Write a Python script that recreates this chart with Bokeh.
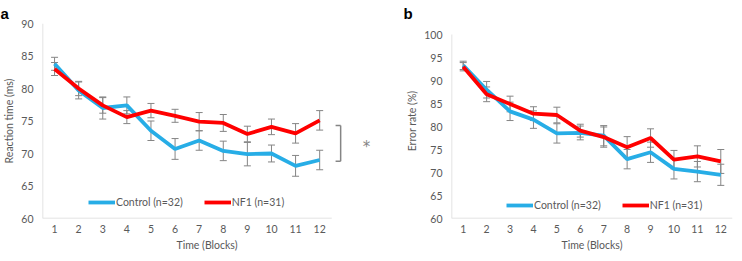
from bokeh.plotting import figure
from bokeh.layouts import row
from bokeh.models import Range1d, FixedTicker, Whisker, TeeHead, ColumnDataSource, Legend, LegendItem, Label
from bokeh.embed import file_html
from bokeh.resources import INLINE

blocks = list(range(1, 13))
tick_labels_a = [60, 65, 70, 75, 80, 85, 90]
tick_labels_b = [60, 65, 70, 75, 80, 85, 90, 95, 100]

# Panel a: reaction time (ms)
rt_control = [83.8, 79.7, 77.0, 77.4, 73.5, 70.7, 72.0, 70.4, 69.9, 70.0, 68.1, 69.0]
rt_control_err = [1.0, 1.3, 1.7, 1.3, 1.5, 1.6, 1.5, 1.5, 1.8, 1.3, 1.6, 1.5]
rt_nf1 = [83.0, 80.0, 77.4, 75.6, 76.6, 75.8, 74.9, 74.7, 73.0, 74.1, 73.1, 75.1]
rt_nf1_err = [1.0, 1.1, 1.2, 1.0, 1.1, 1.0, 1.4, 1.3, 1.2, 1.2, 1.5, 1.5]

# Panel b: error rate (%)
er_control = [93.3, 88.0, 83.3, 81.5, 78.5, 78.6, 78.0, 72.9, 74.4, 70.8, 70.2, 69.5]
er_control_err = [0.9, 1.8, 2.0, 1.9, 2.1, 1.5, 2.2, 2.1, 2.2, 2.2, 2.2, 2.3]
er_nf1 = [93.0, 87.0, 84.9, 82.8, 82.5, 79.1, 77.7, 75.5, 77.5, 72.8, 73.5, 72.4]
er_nf1_err = [0.9, 1.6, 1.7, 1.5, 1.7, 1.4, 2.2, 2.3, 2.0, 2.0, 2.3, 2.6]

# significance bracket for panel a (data units)
bracket_x = [12.66, 12.87]
bracket_y = [68.8, 74.3]
star_pos = (13.94, 71.0)

BLUE = "#27ADE6"
RED = "#FF0000"
GRAY = "#858585"
AXIS = "#D9D9D9"
TXT = "#595959"
FONT = "Lato"


def make_panel(width, x_end, y_lo, y_top, y_hi, yticks, ylabel, ctrl, ctrl_err, nf, nf_err,
               bl, br, leg_loc, panel_letter, letter_offset):
    p = figure(width=width, height=261, output_backend="svg", toolbar_location=None,
               x_range=Range1d(0.5, x_end), y_range=Range1d(y_lo, y_top),
               min_border_left=bl, min_border_right=br, min_border_top=23, min_border_bottom=43,
               title=panel_letter)
    p.title.align = "left"
    p.title.offset = letter_offset
    p.title.standoff = 3
    p.title.text_font = "Liberation Sans"
    p.title.text_font_style = "bold"
    p.title.text_font_size = "15px"
    p.title.text_color = "black"
    p.title.text_line_height = 1.0
    p.outline_line_color = None
    p.grid.visible = False
    p.background_fill_color = "white"
    p.border_fill_color = "white"

    p.xaxis.ticker = FixedTicker(ticks=blocks)
    p.yaxis.ticker = FixedTicker(ticks=yticks)
    for ax in (p.xaxis, p.yaxis):
        ax.major_tick_line_color = None
        ax.minor_tick_line_color = None
        ax.major_tick_out = 0
        ax.major_tick_in = 0
        ax.minor_tick_out = 0
        ax.major_label_text_font = FONT
        ax.major_label_text_font_size = "10.5px"
        ax.major_label_text_color = TXT
        ax.axis_label_text_font = FONT
        ax.axis_label_text_font_size = "10.5px"
        ax.axis_label_text_font_style = "normal"
        ax.axis_label_text_color = TXT
        ax.axis_line_color = None
    p.xaxis.axis_label = "Time (Blocks)"
    p.yaxis.axis_label = ylabel
    p.xaxis.major_label_standoff = 6
    p.xaxis.axis_label_standoff = 3
    p.yaxis.major_label_standoff = 9
    p.yaxis.axis_label_standoff = 3

    # axis lines spanning only the labelled range
    p.segment(x0=[0.5, 0.5], y0=[y_lo, y_lo], x1=[12.5, 0.5], y1=[y_lo, y_hi],
              line_color=AXIS, line_width=1.5)

    for vals, errs in ((ctrl, ctrl_err), (nf, nf_err)):
        src = ColumnDataSource(dict(x=blocks,
                                    upper=[v + e for v, e in zip(vals, errs)],
                                    lower=[v - e for v, e in zip(vals, errs)]))
        w = Whisker(source=src, base="x", upper="upper", lower="lower",
                    line_color=GRAY, line_width=1,
                    upper_head=TeeHead(size=7, line_color=GRAY, line_width=1),
                    lower_head=TeeHead(size=7, line_color=GRAY, line_width=1))
        w.level = "underlay"
        p.add_layout(w)

    r1 = p.line(blocks, ctrl, line_color=BLUE, line_width=3.8)
    r2 = p.line(blocks, nf, line_color=RED, line_width=3.8)

    leg = Legend(items=[LegendItem(label="Control (n=32)", renderers=[r1]),
                        LegendItem(label="NF1 (n=31)", renderers=[r2])],
                 orientation="horizontal", location=leg_loc,
                 background_fill_alpha=0, border_line_color=None,
                 label_text_font=FONT, label_text_font_size="10.5px", label_text_color=TXT,
                 glyph_width=27, glyph_height=12, label_standoff=1, spacing=21,
                 padding=0, margin=0, label_height=12)
    p.add_layout(leg)
    return p


pa = make_panel(371, 14.15, 60, 90, 90, tick_labels_a, "Reaction time (ms)",
                rt_control, rt_control_err, rt_nf1, rt_nf1_err,
                41, 0, (46, 10), "a", -42)
# significance bracket
pa.segment(x0=[bracket_x[0], bracket_x[1], bracket_x[0]],
           y0=[bracket_y[1], bracket_y[0], bracket_y[0]],
           x1=[bracket_x[1], bracket_x[1], bracket_x[1]],
           y1=[bracket_y[1], bracket_y[1], bracket_y[0]],
           line_color=GRAY, line_width=1.5)
pa.add_layout(Label(x=star_pos[0], y=star_pos[1], text="*", text_align="center",
                    text_baseline="alphabetic", text_font="DejaVu Sans", text_font_size="15px",
                    text_color=GRAY))

pb = make_panel(371, 12.5, 60, 102.4, 100, tick_labels_b, "Error rate (%)",
                er_control, er_control_err, er_nf1, er_nf1_err,
                80, 10, (55, 7), "b", -48)

layout = row(pa, pb)
open("out.html", "w").write(file_html(layout, INLINE))
